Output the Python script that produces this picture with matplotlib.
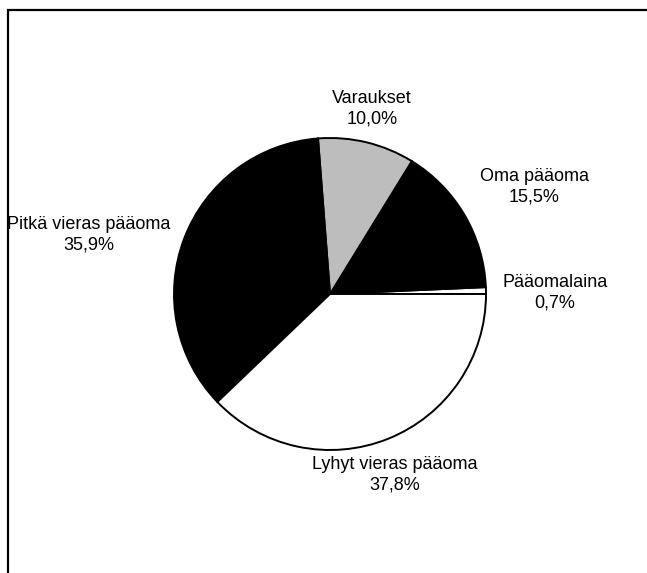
import matplotlib
matplotlib.use("Agg")
import matplotlib.pyplot as plt

# Data
categories = ["Pääomalaina", "Oma pääoma", "Varaukset", "Pitkä vieras pääoma", "Lyhyt vieras pääoma"]
shares = [0.7, 15.5, 10.0, 35.9, 37.8]
pct_labels = ["0,7%", "15,5%", "10,0%", "35,9%", "37,8%"]

# Style
colors = ["#ffffff", "#000000", "#bdbdbd", "#000000", "#ffffff"]
label_xy = [(555, 292.5), (534, 187), (372, 109), (89, 235), (395, 474.5)]  # pixel positions

W, H = 647, 573
fig = plt.figure(figsize=(W / 100, H / 100), dpi=100)
ax = fig.add_axes([0, 0, 1, 1])

ax.pie(shares, colors=colors, startangle=0, counterclock=True,
       center=(330, H - 294), radius=156, frame=True,
       wedgeprops=dict(edgecolor="black", linewidth=1.4))
ax.set_xlim(0, W)
ax.set_ylim(0, H)
ax.set_aspect("equal")
ax.axis("off")

for cat, pct, (x, y) in zip(categories, pct_labels, label_xy):
    ax.text(x, H - y, f"{cat}\n{pct}", ha="center", va="center",
            fontsize=13, family="Liberation Sans", linespacing=1.3, color="black")

# Partial frame (top and left borders)
ax.plot([7.5, 7.5, W], [0, H - 10, H - 10], color="black", linewidth=1.6,
        solid_joinstyle="miter", clip_on=False)

fig.savefig("out.png", dpi=100)
